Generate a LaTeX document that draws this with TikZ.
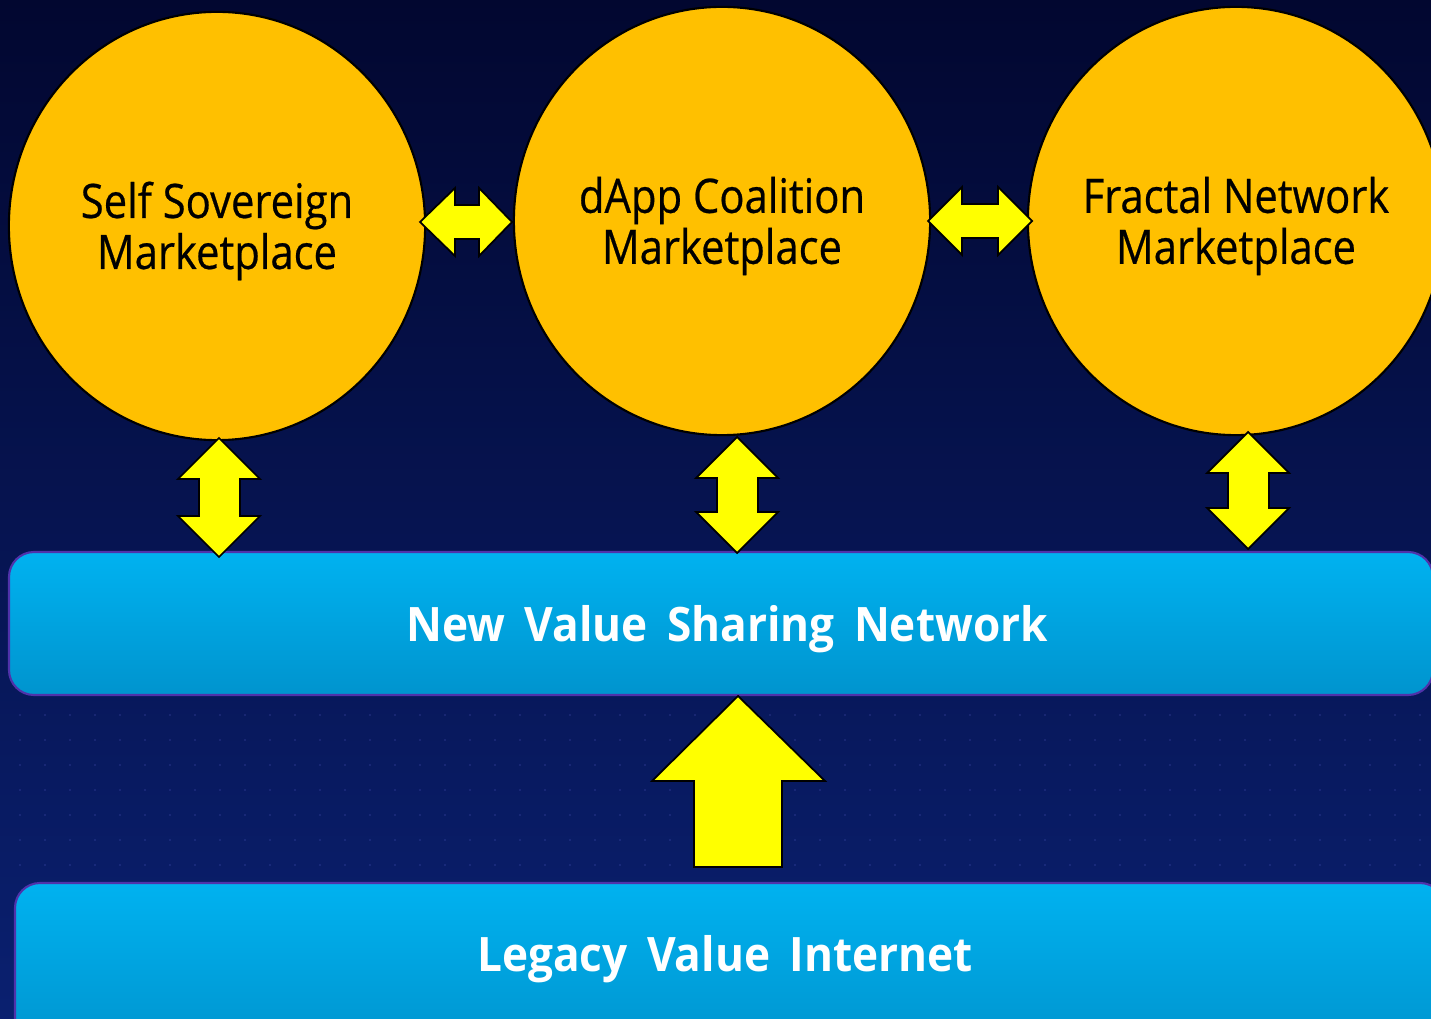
\documentclass[tikz,border=0pt]{standalone}
\usepackage{fontspec}
\setmainfont{Open Sans}
\newfontfamily\circfont{Open Sans}[FakeStretch=0.88,FakeBold=0.5]
\newfontfamily\barfont{Open Sans}[FakeStretch=0.93,WordSpace=1.7]
\usetikzlibrary{shapes.geometric}

\definecolor{skytop}{RGB}{2,7,48}
\definecolor{skylow}{RGB}{10,32,112}
\definecolor{gold}{RGB}{255,192,0}
\definecolor{lemon}{RGB}{255,255,0}
\definecolor{bartop}{RGB}{0,178,240}
\definecolor{barbot}{RGB}{0,148,206}
\definecolor{barrim}{RGB}{80,50,170}

\tikzset{
	market/.style={ellipse, draw=black, line width=0.6pt, fill=gold,
		minimum width=4.16cm, minimum height=4.28cm, inner sep=0pt},
	markettext/.style={align=center, text=black,
		font=\circfont\fontsize{13.5}{14.5}\selectfont},
	blockarrow/.style={fill=lemon, draw=black, line width=0.5pt, line join=miter},
	layer/.style={draw=barrim, line width=0.6pt, rounded corners=0.25cm,
		top color=bartop, bottom color=barbot},
	layertext/.style={text=white, font=\barfont\bfseries\fontsize{13.5}{15}\selectfont}
}

\begin{document}
\begin{tikzpicture}[x=0.01cm,y=-0.01cm]
	\useasboundingbox (0,0) rectangle (1431,1019);
	\begin{scope}
	\clip (0,0) rectangle (1431,1019);
	% night sky
	\shade[top color=skytop, bottom color=skylow] (0,0) rectangle (1431,1019);
	\foreach \x in {20,45,...,1420}
		\foreach \y in {715,740,...,870}
			\fill[blue!50!white, opacity=0.18] (\x,\y) circle (0.012cm);

	% marketplaces
	\node[market] (self) at (217,226) {};
	\node[market] (dapp) at (722,221) {};
	\node[market] (fractal) at (1236,221) {};
	\node[markettext] (selft) at (217,231) {Self Sovereign\\Marketplace};
	\node[markettext] (dappt) at (722,226) {dApp Coalition\\Marketplace};
	\node[markettext] (fractalt) at (1236,226) {Fractal Network\\Marketplace};

	% layers
	\draw[layer] (9,552) rectangle (1433,695);
	\draw[layer] (15,883) rectangle (1445,1050);
	\node[layertext] (nvsn) at (727,629) {New Value Sharing Network};
	\node[layertext] (lvi) at (725,959) {Legacy Value Internet};

	% double arrows between circles
	\filldraw[blockarrow] (420,222)--(455,188)--(455,205)--(479,205)--(479,188)--(512,222)
		--(479,256)--(479,239)--(455,239)--(455,256)--cycle;
	\filldraw[blockarrow] (928,221)--(962,187)--(962,204)--(998,204)--(998,187)--(1032,221)
		--(998,255)--(998,238)--(962,238)--(962,255)--cycle;

	% double arrows down to the network
	\filldraw[blockarrow] (219,438)--(260,479)--(240,479)--(240,516)--(260,516)--(219,557)
		--(178,516)--(199,516)--(199,479)--(178,479)--cycle;
	\filldraw[blockarrow] (737,437)--(778,478)--(758,478)--(758,512)--(778,512)--(737,553)
		--(696,512)--(717,512)--(717,478)--(696,478)--cycle;
	\filldraw[blockarrow] (1248,432)--(1289,473)--(1269,473)--(1269,508)--(1289,508)--(1248,549)
		--(1207,508)--(1228,508)--(1228,473)--(1207,473)--cycle;

	% legacy up to new
	\filldraw[blockarrow] (738,696)--(825,781)--(782,781)--(782,867)--(694,867)--(694,781)
		--(652,781)--cycle;
	\end{scope}
\end{tikzpicture}
\end{document}
